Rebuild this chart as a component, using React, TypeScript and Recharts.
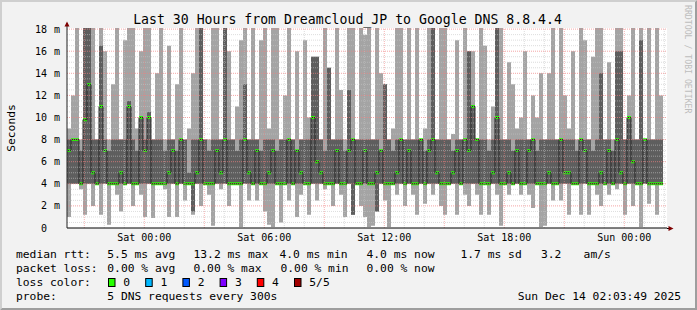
import React from "react";
import { ComposedChart, Area, Line, XAxis, YAxis, CartesianGrid, ReferenceLine } from "recharts";

const MONO = "'DejaVu Sans Mono', monospace";

// one slot = 12 minutes, 150 slots = 30 hours
const STEP_H = 0.2;

// upper edge of the smoke (slowest ping), ms; >18 is clipped at the top
const MAX_MS = [
  9, 12, 18.5, 8, 18.5, 18.5, 18.5, 8, 18.5, 16, 8, 13, 18.5, 8, 17, 18.5, 18.5, 9, 16, 18.5, 18.5, 8, 14, 18.5, 8,
  16.5, 8, 13, 18.5, 8, 9, 14, 18.5, 18.5, 8, 8, 18.5, 18.5, 8, 18.5, 16, 8, 11, 17, 18.5, 8, 18.5, 8, 17, 18.5,
  9, 18.5, 18.5, 8, 12, 18.5, 8, 16, 8, 17, 10, 15.5, 15.5, 8, 18.5, 14.5, 8, 18.5, 12.5, 8, 18.5, 18.5, 8, 18.5, 17.5,
  18.5, 8, 18.5, 14, 13, 8, 9, 18.5, 18.5, 8, 18.5, 8, 18.5, 8, 9, 18.5, 18.5, 8, 18.5, 18.5, 8, 8.5, 17, 8, 18.5,
  16, 16, 8, 18.5, 16.5, 8, 11, 18.5, 18.5, 8, 15, 13, 9, 10, 16, 8, 12, 10, 14, 8, 14, 18.5, 8, 18.5, 12,
  9, 16, 8, 18.5, 17, 8, 15.5, 18.5, 18.5, 8, 15, 8, 18.5, 18.5, 8, 12, 18.5, 8, 18.5, 8, 18.5, 8, 18.5, 12, 18.5,
];

// lower edge of the smoke (fastest ping), ms
const MIN_MS = [
  1, 4, 4, 3.5, 1.2, 4, 2, 4, 1.2, 4, 0.3, 4, 3, 1.5, 4, 4, 2, 4, 3, 1, 4, 0.9, 4, 4, 3.5,
  1, 4, 1, 4, 2.5, 4, 1.2, 4, 2, 4, 3, 0.2, 4, 3.5, 4, 2, 4, 4, 0.1, 4, 2.5, 4, 2.5, 4, 1.5,
  0.3, 0.1, 4, 0.5, 4, 2.5, 4, 1, 3, 4, 1.2, 4, 2.5, 4, 3.5, 4, 2, 4, 3, 1, 4, 1.2, 4, 2, 1,
  0.1, 0.2, 1.5, 4, 2.5, 0.1, 4, 3, 4, 2, 4, 3, 1.2, 4, 2.2, 4, 3, 4, 2, 1.2, 4, 4, 1.2, 4, 3,
  2, 4, 3, 1.2, 4, 1.2, 4, 3, 0.2, 4, 3, 4, 4, 3, 4, 3, 1.8, 4, 0.1, 0.2, 4, 2.5, 4, 2.5, 4,
  1.2, 4, 4, 1.2, 4, 1.2, 4, 3, 2, 4, 3, 4, 3.5, 4, 1.2, 4, 2, 4, 0.1, 4, 2.2, 4, 1.2, 4, 3,
];

// dense inner smoke (2nd..4th ping)
const DARK_LO = [
  4, 4, 4, 4, 4, 4, 4, 4, 4, 4, 4, 4, 4, 4, 4, 4, 4, 4, 4, 4, 4, 4, 4, 4, 4,
  4, 4, 4, 4, 4, 4, 1.5, 4, 4, 4, 4, 4, 4, 4, 4, 4, 4, 4, 4, 4, 4, 4, 4, 4, 4,
  4, 4, 4, 4, 4, 4, 4, 4, 4, 4, 4, 4, 4, 4, 4, 4, 4, 4, 4, 4, 4, 1.2, 4, 4, 4,
  4, 4, 1.5, 4, 4, 4, 4, 4, 4, 4, 4, 4, 4, 4, 4, 4, 4, 4, 4, 4, 4, 4, 4, 4, 4,
  4, 4, 4, 4, 4, 4, 4, 4, 4, 4, 4, 4, 4, 4, 4, 4, 4, 4, 4, 4, 4, 4, 4, 4, 4,
  4, 4, 4, 4, 4, 4, 4, 4, 4, 4, 4, 4, 4, 4, 4, 4, 4, 4, 4, 4, 4, 4, 4, 4, 4,
];
const DARK_HI = [
  8, 8, 8, 7, 18.5, 18.5, 8, 8, 16.5, 8, 7, 8, 8, 8, 8, 11.5, 8, 7, 10, 8, 10.5, 8, 8, 8, 7,
  8, 8, 7, 8, 8, 5, 8, 8, 18.5, 8, 7, 8, 8, 8, 18.5, 8, 8, 7, 8, 13, 8, 8, 8, 7, 8,
  8, 8, 7, 8, 8, 8, 8, 7, 8, 8, 8, 15.5, 15.5, 8, 7, 14.5, 8, 8, 8, 7, 12.5, 8, 8, 8, 8,
  8, 8, 8, 7, 13, 8, 7, 8, 8, 8, 8, 8, 8, 8, 7, 8, 18.5, 8, 8, 8, 8, 7, 8, 8, 8,
  16, 11, 8, 8, 8, 7, 8, 18.5, 8, 8, 8, 7, 8, 8, 8, 8, 8, 7, 8, 8, 8, 8, 8, 8, 8,
  8, 8, 7, 8, 8, 8, 7, 8, 14, 8, 8, 7, 16, 16, 8, 10, 8, 8, 17, 8, 8, 8, 8, 8, 8,
];

// median rtt, ms (loss 0 everywhere -> green)
const MEDIAN = [
  7, 8, 8, 4, 9.8, 13, 5, 4, 11, 7, 4, 4, 4, 5, 4, 11, 4, 4, 10, 7, 10, 4, 4, 4, 4,
  5, 7, 4, 8, 4, 4, 4, 5, 8, 4, 4, 4, 7, 5, 8, 4, 4, 4, 4, 8, 5, 4, 7, 4, 4,
  5, 7, 4, 4, 4, 8, 4, 7, 5, 4, 4, 10, 6, 5, 4, 4, 4, 7, 4, 4, 7, 8, 4, 4, 7,
  4, 4, 5, 7, 4, 4, 4, 5, 8, 4, 7, 4, 4, 8, 4, 7, 8, 5, 4, 4, 4, 5, 7, 4, 8,
  7, 11, 8, 4, 4, 4, 5, 10, 4, 4, 5, 4, 7, 4, 4, 7, 8, 4, 4, 4, 5, 4, 4, 8, 5,
  5, 4, 4, 8, 7, 4, 4, 4, 5, 4, 7, 4, 8, 5, 4, 10, 6, 4, 4, 8, 4, 4, 4, 4, 4,
];

const Y_TICKS = [0, 2, 4, 6, 8, 10, 12, 14, 16, 18];
const X_TICKS = [3.865, 9.865, 15.865, 21.865, 27.865];
const X_LABELS = ["Sat 00:00", "Sat 06:00", "Sat 12:00", "Sat 18:00", "Sun 00:00"];

const RTT_STATS = ["5.5 ms avg", "13.2 ms max", "4.0 ms min", "4.0 ms now", "1.7 ms sd", "3.2", "am/s"];
const RTT_X = [107.3, 193.5, 279.5, 366.5, 460.5, 541, 583.6];
const LOSS_STATS = ["0.00 % avg", "0.00 % max", "0.00 % min", "0.00 % now"];
const LOSS_X = [107.3, 193.5, 280.5, 366.5];
const LOSS_LEVELS = ["0", "1", "2", "3", "4", "5/5"];
const LOSS_COLORS = ["#26ff00", "#00b8ff", "#0059ff", "#7e00ff", "#ff0000", "#a10000"];

const rows = MAX_MS.map((mx, i) => ({
  t: i * STEP_H,
  outer: [MIN_MS[i], mx],
  inner: [DARK_LO[i], DARK_HI[i]],
  median: MEDIAN[i],
  medBand: [MEDIAN[i] - 0.13, MEDIAN[i] + 0.13],
}));

const minorY: number[] = [];
for (let v = 0.5; v <= 18; v += 0.5) if (v % 2 !== 0) minorY.push(v);
const majorY = Y_TICKS.filter((v) => v > 0);
const hourLines: number[] = [];
for (let k = 0; k < 30; k++) hourLines.push(0.865 + k);

const XTick = ({ x, y, payload }: any) => {
  const idx = X_TICKS.indexOf(payload.value);
  return (
    <text x={x} y={y} dy={13} textAnchor="middle" fontFamily={MONO} fontSize={10} fill="#000">
      {X_LABELS[idx]}
    </text>
  );
};

const YTick = ({ x, y, payload }: any) => (
  <g>
    <text x={x - 20} y={y} dy={3.5} textAnchor="end" fontFamily={MONO} fontSize={10} fill="#000">
      {payload.value}
    </text>
    {payload.value !== 0 && (
      <text x={x - 13} y={y} dy={3.5} fontFamily={MONO} fontSize={10} fill="#000">
        m
      </text>
    )}
  </g>
);

export default function App() {
  const txt = { fontFamily: MONO, fontSize: 11.3, fill: "#000" } as const;
  return (
    <div style={{ position: "absolute", left: 0, top: 0, width: 697, height: 310, background: "#f2f2f2" }}>
      <ComposedChart width={697} height={310} data={rows} margin={{ top: 28, right: 30, bottom: 62, left: 17 }}>
        <CartesianGrid fill="#ffffff" horizontal={false} vertical={false} />
        <XAxis
          type="number"
          dataKey="t"
          domain={[0, 30]}
          ticks={X_TICKS}
          interval={0}
          tick={<XTick />}
          tickLine={false}
          tickSize={0}
          tickMargin={0}
          height={20}
          axisLine={{ stroke: "#000" }}
          allowDataOverflow
        />
        <YAxis
          domain={[0, 18.1]}
          ticks={Y_TICKS}
          interval={0}
          tick={<YTick />}
          tickLine={false}
          tickSize={0}
          tickMargin={0}
          width={50}
          axisLine={{ stroke: "#202020" }}
          allowDataOverflow
        />
        <Area dataKey="outer" type="stepAfter" fill="#a4a4a4" fillOpacity={1} stroke="none" isAnimationActive={false} />
        <Area dataKey="inner" type="stepAfter" fill="#5e5e5e" fillOpacity={1} stroke="none" isAnimationActive={false} />
        <Line dataKey="median" type="stepAfter" stroke="#262626" strokeWidth={1} dot={false} isAnimationActive={false} />
        {minorY.map((v) => (
          <ReferenceLine key={"my" + v} y={v} stroke="#c4c4c4" strokeDasharray="1 1" strokeOpacity={0.6} />
        ))}
        {hourLines.map((v, k) => (
          <ReferenceLine
            key={"vx" + k}
            x={v}
            stroke={k % 3 === 0 ? "#f08080" : "#c4c4c4"}
            strokeDasharray="1 1"
            strokeOpacity={0.6}
          />
        ))}
        {majorY.map((v) => (
          <ReferenceLine key={"My" + v} y={v} stroke="#f08080" strokeDasharray="1 1" strokeOpacity={0.7} />
        ))}
        <Area dataKey="medBand" type="stepAfter" fill="#26ff00" fillOpacity={1} stroke="none" isAnimationActive={false} />
      </ComposedChart>

      <svg width={697} height={310} style={{ position: "absolute", left: 0, top: 0, pointerEvents: "none" }}>
        {/* 3d frame */}
        <polygon points="0,0 697,0 695,2 2,2 2,308 0,310" fill="#cfcfcf" />
        <polygon points="697,0 697,310 0,310 2,308 695,308 695,2" fill="#9e9e9e" />
        <text x={347.5} y={19} dy={4.5} textAnchor="middle" fontFamily={MONO} fontSize={13.2} fill="#000">
          Last 30 Hours from Dreamcloud_JP to Google DNS 8.8.4.4
        </text>
        <text transform="translate(11,128) rotate(-90)" dy={4} textAnchor="middle" {...txt}>
          Seconds
        </text>
        <text transform="translate(688,5) rotate(90)" dy={3} fontFamily={MONO} fontSize={8.2} fill="#bdbdbd">
          RRDTOOL / TOBI OETIKER
        </text>
        {/* axis arrows */}
        <line x1={67} y1={23} x2={67} y2={28} stroke="#202020" />
        <polygon points="67,21.5 64.5,26.5 69.5,26.5" fill="#7f0000" />
        <line x1={667} y1={228.5} x2={669} y2={228.5} stroke="#000" />
        <polygon points="673.5,228.5 668.5,226 668.5,231" fill="#7f0000" />
        {/* legend */}
        <text x={16} y={258.3} {...txt}>median rtt:</text>
        {RTT_STATS.map((s, i) => (
          <text key={s + i} x={RTT_X[i]} y={258.3} {...txt}>{s}</text>
        ))}
        <text x={16} y={272.3} {...txt}>packet loss:</text>
        {LOSS_STATS.map((s, i) => (
          <text key={s + i} x={LOSS_X[i]} y={272.3} {...txt}>{s}</text>
        ))}
        <text x={16} y={286.3} {...txt}>loss color:</text>
        {LOSS_LEVELS.map((s, i) => (
          <g key={s}>
            <rect x={108.5 + i * 37.2} y={278.5} width={6.5} height={8} fill={LOSS_COLORS[i]} stroke="#000" strokeWidth={1} />
            <text x={123.3 + i * 37.2} y={286.3} {...txt}>{s}</text>
          </g>
        ))}
        <text x={16} y={300} {...txt}>probe:</text>
        <text x={107.3} y={300} {...txt}>5 DNS requests every 300s</text>
        <text x={681} y={300} textAnchor="end" {...txt}>Sun Dec 14 02:03:49 2025</text>
      </svg>
    </div>
  );
}
